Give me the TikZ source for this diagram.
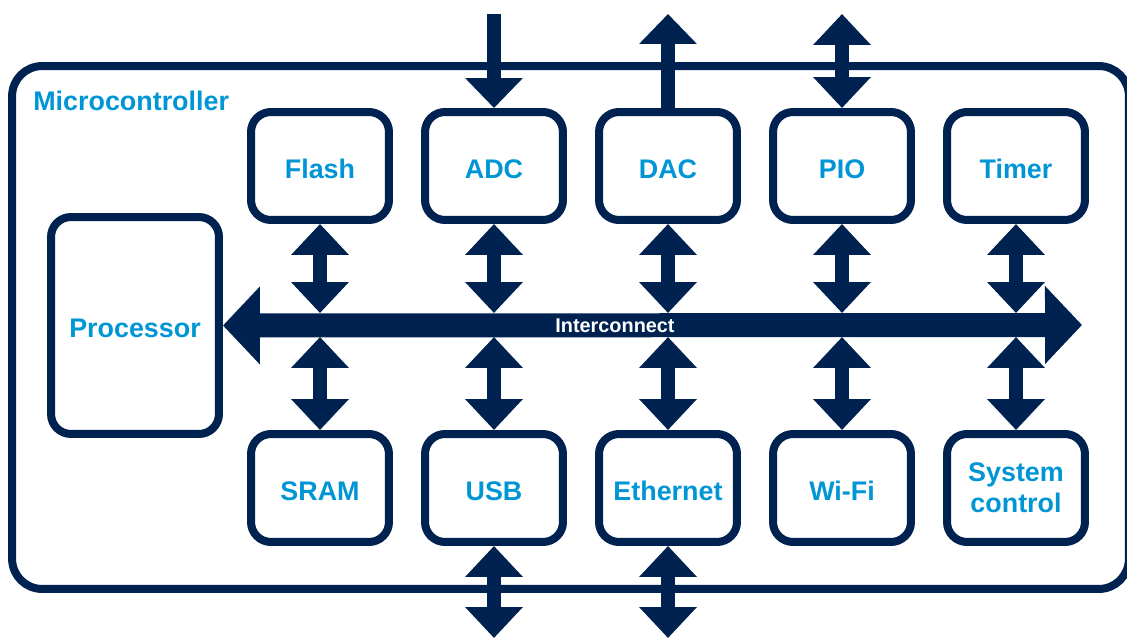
\documentclass[tikz,border=0pt]{standalone}
\usepackage{fontspec}
\setmainfont{Liberation Sans}
\usepackage{xcolor}
\usepackage{tikz}
\usetikzlibrary{arrows.meta}

\definecolor{mcnavy}{RGB}{0,34,80}
\definecolor{mcblue}{RGB}{0,150,214}

\begin{document}
\begin{tikzpicture}[x=0.02cm, y=0.02cm,
    block/.style={draw=mcnavy, line width=0.16cm, rounded corners=0.4cm, fill=white,
        minimum width=2.76cm, minimum height=2.16cm, text=mcblue, align=center,
        text height=0.5cm, text depth=0cm,
        font=\bfseries\fontsize{15.3}{17.6}\selectfont},
    link/.style={mcnavy, line width=0.28cm,
        {Triangle[width=1.12cm,length=0.62cm]}-{Triangle[width=1.12cm,length=0.62cm]}},
    feedin/.style={mcnavy, line width=0.28cm, -{Triangle[width=1.12cm,length=0.6cm]}},
    bus/.style={mcnavy, line width=0.48cm,
        {Triangle[width=1.52cm,length=0.74cm]}-{Triangle[width=1.52cm,length=0.74cm]}}]
    \useasboundingbox (0,0) rectangle (1127,637);

    % Microcontroller outline
    \node[draw=mcnavy, line width=0.16cm, rounded corners=0.6cm, minimum width=22.34cm,
        minimum height=10.46cm] (mcu) at (570.5,309.5) {};
    \node[anchor=base west, inner sep=0pt, text=mcblue, font=\bfseries\fontsize{15.3}{17.6}\selectfont]
        (mcutitle) at (33,526) {Microcontroller};

    % Processor
    \node[block, minimum width=3.36cm, minimum height=4.34cm] (cpu) at (135,311.5) {Processor};

    % Top row
    \node[block] (flash) at (320,471) {Flash};
    \node[block] (adc) at (494,471) {ADC};
    \node[block] (dac) at (668,471) {DAC};
    \node[block] (pio) at (842,471) {PIO};
    \node[block] (timer) at (1016,471) {Timer};

    % Bottom row
    \node[block] (sram) at (320,149) {SRAM};
    \node[block] (usb) at (494,149) {USB};
    \node[block] (eth) at (668,149) {Ethernet};
    \node[block] (wifi) at (842,149) {Wi-Fi};
    \node[block, text height={}, text depth={}] (sysctl) at (1016,149) {System\\control};

    % Interconnect
    \coordinate (busend) at (1082,312);
    \coordinate (bustop) at (0,324);
    \coordinate (busbot) at (0,300);
    \draw[bus] (cpu.east) -- (busend);
    \node[text=white, font=\bfseries\fontsize{11.3}{13}\selectfont] (buslabel) at (615,311) {Interconnect};

    % Arrows to the interconnect
    \foreach \blk in {flash,adc,dac,pio,timer}
        \draw[link] (\blk.south) -- (\blk.south |- bustop);
    \foreach \blk in {sram,usb,eth,wifi,sysctl}
        \draw[link] (\blk.north) -- (\blk.north |- busbot);

    % External signals
    \coordinate (adcin) at (494,623);
    \coordinate (dacout) at (668,623);
    \coordinate (pioio) at (842,623);
    \coordinate (usbio) at (494,-1);
    \coordinate (ethio) at (668,-1);
    \draw[feedin] (adcin) -- (adc.north);
    \draw[feedin] (dac.north) -- (dacout);
    \draw[link] (pio.north) -- (pioio);
    \draw[link] (usb.south) -- (usbio);
    \draw[link] (eth.south) -- (ethio);
\end{tikzpicture}
\end{document}
